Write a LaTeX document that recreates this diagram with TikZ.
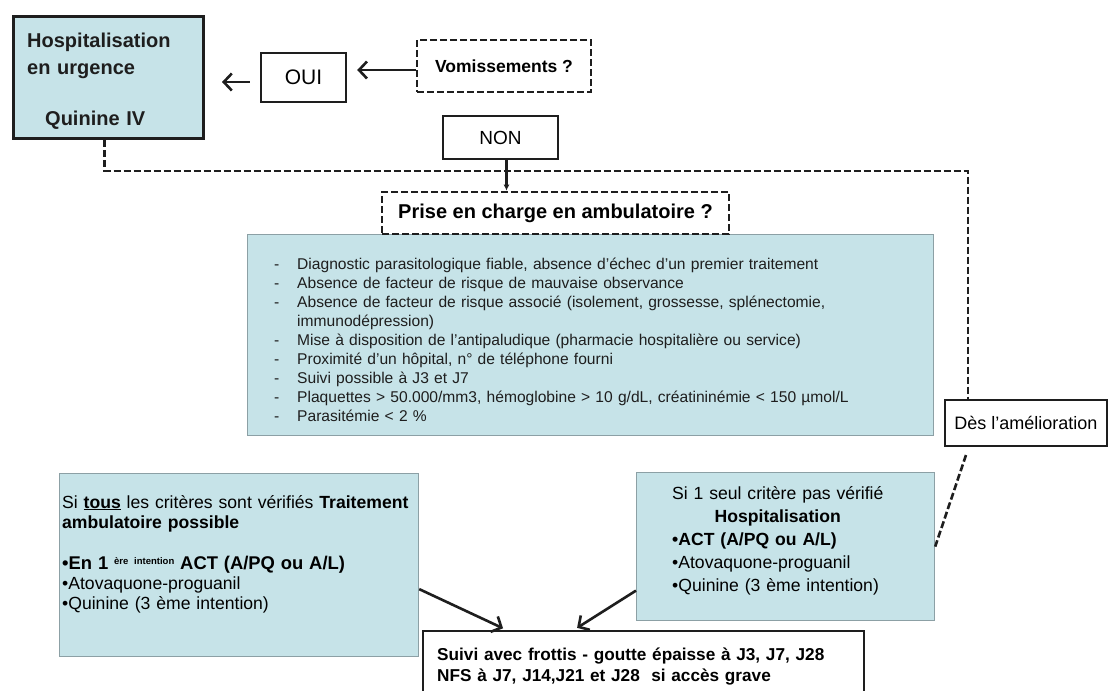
\documentclass[tikz,border=0pt]{standalone}
\usepackage{fontspec}
\setmainfont{Liberation Sans}
\usetikzlibrary{arrows.meta,calc}
\definecolor{boxblue}{RGB}{198,227,232}
\definecolor{boxline}{RGB}{140,160,165}
\definecolor{inkgrey}{RGB}{30,30,30}
\newcommand{\fsz}[2]{\fontsize{#1}{#2}\selectfont}
\newcommand{\critline}[1]{\makebox[23pt][l]{-}#1}
\begin{document}
\begin{tikzpicture}[x=1pt,y=-1pt,
  bluebox/.style={draw=boxline,line width=1.2pt,fill=boxblue,anchor=north west,inner sep=0pt},
  plainbox/.style={draw=inkgrey,line width=2.4pt,fill=white,inner sep=0pt},
  dashbox/.style={draw=inkgrey,line width=2.6pt,dash pattern=on 7pt off 3pt,inner sep=0pt},
  dashlink/.style={draw=inkgrey,line width=2.6pt,dash pattern=on 7pt off 3pt},
  arr/.style={draw=inkgrey,line width=2.6pt,-{Straight Barb[length=8pt,width=17pt]}},
  txt/.style={inner sep=0pt,align=left,anchor=base west}]
\clip (0,0) rectangle (1109,691);
\fill[white] (0,0) rectangle (1109,691);
\node[bluebox,draw=inkgrey,line width=3pt,minimum width=190pt,minimum height=122pt] (hosp) at (12,15) {};
\node[txt,text width=170pt,font=\fsz{20}{27}\bfseries,text=inkgrey] (hosptxt) at ([xshift=15pt,yshift=-32pt]hosp.north west) {Hospitalisation\\en urgence\\[24pt]\hspace*{18pt}Quinine IV};
\node[plainbox,minimum width=85pt,minimum height=49pt,font=\fsz{21}{24}] (oui) at (303.5,77.5) {OUI};
\node[dashbox,minimum width=174pt,minimum height=52pt,font=\fsz{17.5}{20}\bfseries] (vom) at (504,66) {Vomissements ?};
\node[plainbox,minimum width=115pt,minimum height=43pt,font=\fsz{19}{22}] (non) at (500.5,137.5) {NON};
\node[bluebox,minimum width=686pt,minimum height=201pt] (crit) at (247,234) {};
\node[txt,text width=640pt,text=inkgrey,font=\fsz{15.6}{19}] (crittxt) at ([xshift=27pt,yshift=-35pt]crit.north west) {%
\critline{Diagnostic parasitologique fiable, absence d'échec d'un premier traitement}\\
\critline{Absence de facteur de risque de mauvaise observance}\\
\critline{Absence de facteur de risque associé (isolement, grossesse, splénectomie,}\\
\hspace*{23pt}immunodépression)\\
\critline{Mise à disposition de l'antipaludique (pharmacie hospitalière ou service)}\\
\critline{Proximité d'un hôpital, n° de téléphone fourni}\\
\critline{Suivi possible à J3 et J7}\\
\critline{Plaquettes > 50.000/mm3, hémoglobine > 10 g/dL, créatininémie < 150 µmol/L}\\
\critline{Parasitémie < 2 \%}};
\node[dashbox,fill=white,minimum width=347pt,minimum height=42pt,font=\fsz{20}{24}\bfseries] (prise) at (555.5,213) {Prise en charge en ambulatoire ?};
\node[plainbox,minimum width=162pt,minimum height=46pt,font=\fsz{18}{20}] (des) at (1026,423) {Dès l'amélioration};
\node[bluebox,minimum width=359pt,minimum height=183pt] (tous) at (59,473) {};
\node[txt,text width=358pt,font=\fsz{17.6}{20}] (toustxt) at ([xshift=3pt,yshift=-35pt]tous.north west) {%
Si \underline{\textbf{tous}} les critères sont vérifiés \textbf{Traitement}\\\textbf{ambulatoire possible}\\[21pt]
{\fsz{18.4}{20}\bfseries •En 1 \raisebox{5pt}{\fsz{9.5}{10}ère intention} ACT (A/PQ ou A/L)}\\
•Atovaquone-proguanil\\
•Quinine (3 ème intention)};
\node[bluebox,minimum width=298pt,minimum height=148pt] (seul) at (636,472) {};
\node[txt,text width=250pt,font=\fsz{17.6}{23}] (seultxt) at ([xshift=36pt,yshift=-27pt]seul.north west) {%
Si 1 seul critère pas vérifié\\
\makebox[211pt]{\bfseries Hospitalisation}\\
\textbf{•ACT (A/PQ ou A/L)}\\
•Atovaquone-proguanil\\
•Quinine (3 ème intention)};
\node[plainbox,anchor=north west,minimum width=441pt,minimum height=80pt] (suivi) at (422,630) {};
\node[txt,text width=430pt,font=\fsz{17.2}{21}\bfseries] (suivitxt) at ([xshift=15pt,yshift=-30pt]suivi.north west) {%
Suivi avec frottis - goutte épaisse à J3, J7, J28\\NFS à J7, J14,J21 et J28\ \ si accès grave};
\coordinate (turn) at (968,171);
\coordinate (desfoot) at (966,455);
\draw[arr,shorten >=10pt] ([yshift=-4pt]vom.west) -- ([yshift=-4pt]vom.west -| oui.east);
\draw[arr,shorten <=10pt,shorten >=17pt] ([yshift=-4.5pt]oui.west) -- ([yshift=-4.5pt]oui.west -| hosp.east);
\draw[draw=inkgrey,line width=2.4pt,-{Latex[length=6pt,width=6pt]}] ([xshift=6pt]non.south) -- ([xshift=6pt]non.south |- prise.north);
\draw[dashlink] ([xshift=-4pt]hosp.south) |- (turn) -- (turn |- des.north);
\draw[dashlink] (desfoot) -- (seul.east);
\draw[arr,shorten >=4pt] ([yshift=-24pt]tous.east) -- ([xshift=-137pt]suivi.north);
\draw[arr,shorten >=4pt] ([yshift=-44pt]seul.west) -- ([xshift=-70pt]suivi.north);
\end{tikzpicture}
\end{document}
